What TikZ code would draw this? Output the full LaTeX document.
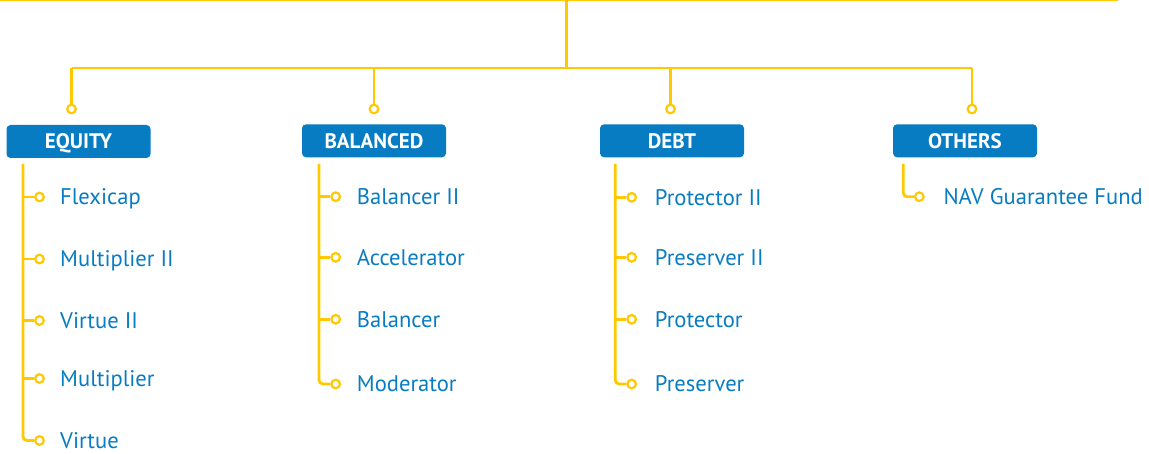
\documentclass[tikz,border=0pt]{standalone}
\usepackage{fontspec}
\setmainfont{PT Sans}
\definecolor{fblue}{RGB}{8,124,194}
\definecolor{fyel}{RGB}{255,200,0}
\begin{document}
\begin{tikzpicture}[x=1pt,y=-1pt,
 catbox/.style={fill=fblue, rounded corners=4pt, minimum width=144pt, minimum height=33pt, inner sep=0pt, text=white, font=\fontsize{21}{21}\selectfont\bfseries, text height=14.7pt, text depth=0pt},
 ring/.style={circle, draw=fyel, line width=2.2pt, minimum size=8.6pt, inner sep=0pt, fill=white},
 item/.style={anchor=west, inner sep=0pt, text=fblue, font=\fontsize{22.6}{22.6}\selectfont, text height=15.8pt, text depth=0pt},
 link/.style={draw=fyel, line width=2.8pt},
]
\useasboundingbox (0,0) rectangle (1149,454);
% top structure
\coordinate (tl) at (0,0);
\coordinate (tr) at (1118,0);
\coordinate (tm) at (566.5,0);
\coordinate (hm) at (566.5,68);
\coordinate (h1) at (71.5,68);
\coordinate (h2) at (374,68);
\coordinate (h3) at (670.5,68);
\coordinate (h4) at (972,68);
\draw[link] (tl) -- (tr);
\draw[link] (tm) -- (hm);
\draw[link] (h1) -- (h4);
\node[ring] (r1) at (71.5,109) {};
\node[ring] (r2) at (374,109) {};
\node[ring] (r3) at (670.5,109) {};
\node[ring] (r4) at (972,109) {};
\draw[link] (h1) -- (r1.north);
\draw[link] (h2) -- (r2.north);
\draw[link] (h3) -- (r3.north);
\draw[link] (h4) -- (r4.north);
% boxes
\node[catbox] (eq) at (78.5,141.5) {EQUITY};
\node[catbox] (ba) at (374,140.8) {BALANCED};
\node[catbox] (de) at (672,140.8) {DEBT};
\node[catbox] (ot) at (965,140.8) {OTHERS};
% EQUITY items
\coordinate (eqv) at (23,164);
\node[ring] (e1c) at (39.5,197) {};
\node[ring] (e2c) at (39.5,259) {};
\node[ring] (e3c) at (39.5,320.5) {};
\node[ring] (e4c) at (39.5,378.5) {};
\node[ring] (e5c) at (39.5,440.5) {};
\node[item] (e1) at (60,197) {Flexicap};
\node[item] (e2) at (60,259) {Multiplier II};
\node[item] (e3) at (60,320.5) {Virtue II};
\node[item] (e4) at (60,378.5) {Multiplier};
\node[item] (e5) at (60,440.5) {Virtue};
\draw[link, rounded corners=4pt] (eqv) |- (e5c.west);
\foreach \c in {e1c,e2c,e3c,e4c} \draw[link] (eqv |- \c) -- (\c.west);
% BALANCED items
\coordinate (bav) at (319,164);
\node[ring] (b1c) at (335.7,196.7) {};
\node[ring] (b2c) at (335.7,257.3) {};
\node[ring] (b3c) at (335.7,319.3) {};
\node[ring] (b4c) at (335.7,384) {};
\node[item] (b1) at (356.7,196.7) {Balancer II};
\node[item] (b2) at (356.7,257.3) {Accelerator};
\node[item] (b3) at (356.7,319.3) {Balancer};
\node[item] (b4) at (356.7,384) {Moderator};
\draw[link, rounded corners=4pt] (bav) |- (b4c.west);
\foreach \c in {b1c,b2c,b3c} \draw[link] (bav |- \c) -- (\c.west);
% DEBT items
\coordinate (dev) at (615.3,164);
\node[ring] (d1c) at (631.7,197.3) {};
\node[ring] (d2c) at (631.7,257.3) {};
\node[ring] (d3c) at (631.7,319.3) {};
\node[ring] (d4c) at (631.7,384) {};
\node[item] (d1) at (654.7,197.3) {Protector II};
\node[item] (d2) at (654.7,257.3) {Preserver II};
\node[item] (d3) at (654.7,319.3) {Protector};
\node[item] (d4) at (654.7,384) {Preserver};
\draw[link, rounded corners=4pt] (dev) |- (d4c.west);
\foreach \c in {d1c,d2c,d3c} \draw[link] (dev |- \c) -- (\c.west);
% OTHERS items
\coordinate (otv) at (903.3,164);
\node[ring] (o1c) at (919.3,196.7) {};
\node[item] (o1) at (943.3,196.7) {NAV Guarantee Fund};
\draw[link, rounded corners=4pt] (otv) |- (o1c.west);
\end{tikzpicture}
\end{document}
